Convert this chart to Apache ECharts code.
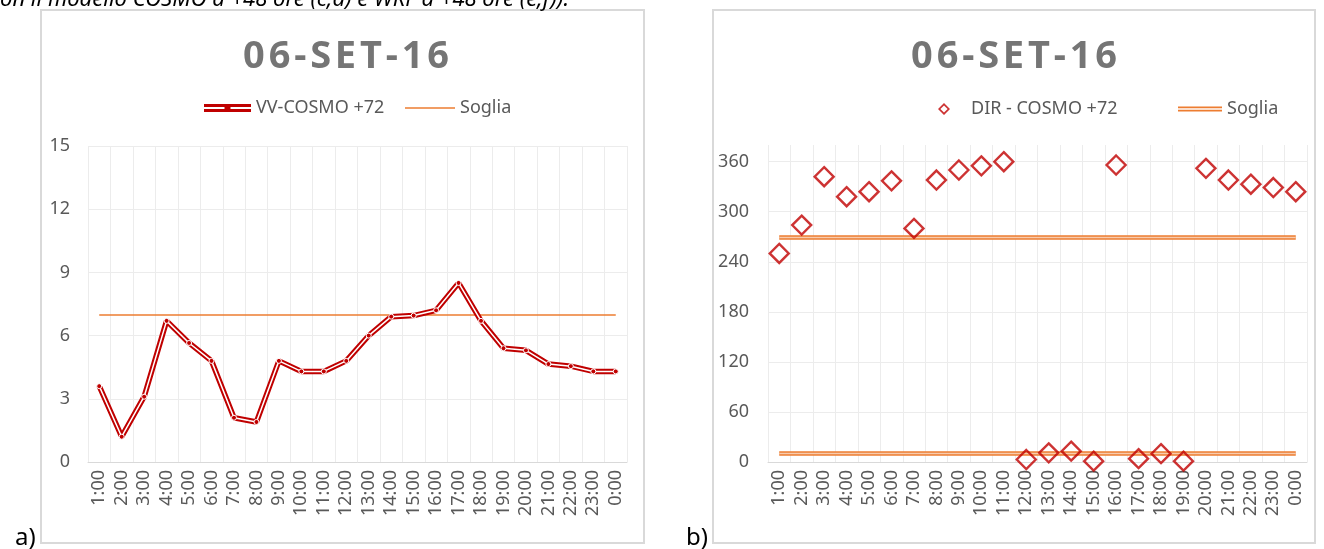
<!DOCTYPE html>
<html>
<head>
<meta charset="utf-8">
<script src="https://cdn.jsdelivr.net/npm/echarts@6/dist/echarts.min.js"></script>
<style>
  html, body { margin: 0; padding: 0; background: #fff; }
  #chart { width: 1324px; height: 549px; }
</style>
</head>
<body>
<div id="chart"></div>
<script>
// dati
const hours = ['1:00', '2:00', '3:00', '4:00', '5:00', '6:00', '7:00', '8:00', '9:00', '10:00', '11:00', '12:00',
  '13:00', '14:00', '15:00', '16:00', '17:00', '18:00', '19:00', '20:00', '21:00', '22:00', '23:00', '0:00']
const vvCosmo = [3.6, 1.2, 3.1, 6.7, 5.65, 4.8, 2.1, 1.9, 4.8, 4.3, 4.3, 4.8,
  6.0, 6.9, 6.95, 7.2, 8.5, 6.7, 5.4, 5.3, 4.65, 4.55, 4.3, 4.3]
const dirCosmo = [250, 284, 342, 318, 324, 337, 280, 338, 350, 355, 360, 3,
  11, 13, 1, 356, 4, 10, 1, 352, 338, 333, 329, 324]
const sogliaVV = [7]
const sogliaDir = [270, 10]

const FONT = '"Noto Sans", sans-serif'
const RED = '#c00000'
const ORANGE = '#ed7d31'
const GRID_COLOR = '#ececec'
const LABEL_COLOR = '#595959'
const TITLE = '06-SET-16'.split('').join('\u200A')  // leggera spaziatura tra le lettere

// linea orizzontale dal primo all'ultimo orario
function sogliaLines(values) {
  return values.map(v => [{ coord: [hours[0], v] }, { coord: [hours[hours.length - 1], v] }])
}

function xAxisFor(idx) {
  return {
    gridIndex: idx,
    type: 'category',
    data: hours,
    boundaryGap: true,
    axisLine: { lineStyle: { color: '#d9d9d9', width: 1 } },
    axisTick: { show: false },
    axisLabel: { interval: 0, rotate: 90, fontSize: 18, color: LABEL_COLOR, fontFamily: FONT, margin: 8 },
    splitLine: { show: true, interval: 0, lineStyle: { color: GRID_COLOR } }
  }
}

const chart = echarts.init(document.getElementById('chart'))
chart.setOption({
  animation: false,
  backgroundColor: '#fff',
  grid: [
    { left: 88, top: 146, width: 539, height: 316 },
    { left: 768, top: 145, width: 539, height: 317 }
  ],
  xAxis: [xAxisFor(0), xAxisFor(1)],
  yAxis: [{
    gridIndex: 0,
    type: 'value',
    min: 0,
    max: 15,
    interval: 3,
    axisLine: { show: false },
    axisTick: { show: false },
    axisLabel: { fontSize: 18, color: LABEL_COLOR, fontFamily: FONT, margin: 18 },
    splitLine: { lineStyle: { color: GRID_COLOR } }
  }, {
    gridIndex: 1,
    type: 'value',
    min: 0,
    max: 380,
    interval: 60,
    axisLine: { show: false },
    axisTick: { show: false },
    axisLabel: { fontSize: 18, color: LABEL_COLOR, fontFamily: FONT, margin: 19, showMaxLabel: false },
    splitLine: {
      lineStyle: {
        color: [GRID_COLOR, GRID_COLOR, GRID_COLOR, GRID_COLOR, GRID_COLOR, GRID_COLOR, GRID_COLOR, 'rgba(0,0,0,0)']
      }
    }
  }],
  legend: [{
    left: 199, top: 94, itemWidth: 47, itemHeight: 8, selectedMode: false,
    textStyle: { fontSize: 18, color: LABEL_COLOR, fontFamily: FONT },
    data: [{
      name: 'VV-COSMO +72',
      icon: 'path://M0,0H47V3H0Z M0,5H47V8H0Z M20.5,1.5H26.5V6.5H20.5Z',
      itemStyle: { color: RED, borderWidth: 0 }
    }]
  }, {
    left: 400, top: 94, itemWidth: 50, itemHeight: 8, selectedMode: false,
    textStyle: { fontSize: 18, color: LABEL_COLOR, fontFamily: FONT },
    data: [{ name: 'Soglia', icon: 'path://M0,0H50V1.6H0Z', itemStyle: { color: ORANGE, borderWidth: 0 } }]
  }, {
    left: 933, top: 95, itemWidth: 44, itemHeight: 12, selectedMode: false,
    textStyle: { fontSize: 18, color: LABEL_COLOR, fontFamily: FONT },
    data: [{
      name: 'DIR - COSMO +72',
      icon: 'path://M6,0L12,6L6,12L0,6Z M6,2.4L2.4,6L6,9.6L9.6,6Z',
      itemStyle: { color: RED, borderWidth: 0 }
    }]
  }, {
    left: 1173, top: 95, itemWidth: 44, itemHeight: 5, selectedMode: false,
    textStyle: { fontSize: 18, color: LABEL_COLOR, fontFamily: FONT },
    data: [{ name: 'Soglia', icon: 'path://M0,0H44V1.7H0Z M0,3.3H44V5H0Z', itemStyle: { color: ORANGE, borderWidth: 0 } }]
  }],
  series: [{
    // a) linea rossa doppia
    name: 'VV-COSMO +72',
    type: 'line',
    xAxisIndex: 0,
    yAxisIndex: 0,
    data: vvCosmo,
    symbol: 'none',
    lineStyle: { color: RED, width: 5.5 },
    itemStyle: { color: RED },
    z: 10
  }, {
    name: 'vv-core',
    type: 'line',
    xAxisIndex: 0,
    yAxisIndex: 0,
    data: vvCosmo,
    symbol: 'circle',
    symbolSize: 5,
    lineStyle: { color: '#fff', width: 1.5 },
    itemStyle: { color: RED, borderColor: '#fff', borderWidth: 1 },
    z: 11
  }, {
    name: 'Soglia',
    type: 'line',
    xAxisIndex: 0,
    yAxisIndex: 0,
    data: [],
    itemStyle: { color: ORANGE },
    markLine: {
      silent: true,
      symbol: 'none',
      label: { show: false },
      lineStyle: { color: ORANGE, width: 1.5, type: 'solid' },
      data: sogliaLines(sogliaVV)
    }
  }, {
    // b) direzione
    name: 'DIR - COSMO +72',
    type: 'scatter',
    xAxisIndex: 1,
    yAxisIndex: 1,
    data: dirCosmo,
    symbol: 'diamond',
    symbolSize: 19,
    itemStyle: { color: 'rgba(255,255,255,0)', borderColor: RED, borderWidth: 2.4 },
    z: 10
  }, {
    name: 'Soglia',
    type: 'line',
    xAxisIndex: 1,
    yAxisIndex: 1,
    data: [],
    itemStyle: { color: ORANGE },
    markLine: {
      silent: true,
      symbol: 'none',
      z: 5,
      label: { show: false },
      lineStyle: { color: ORANGE, width: 4.5, type: 'solid' },
      data: sogliaLines(sogliaDir)
    }
  }, {
    name: 'soglia-core',
    type: 'line',
    xAxisIndex: 1,
    yAxisIndex: 1,
    data: [],
    markLine: {
      silent: true,
      symbol: 'none',
      z: 6,
      label: { show: false },
      lineStyle: { color: '#f8cbad', width: 1.4, type: 'solid' },
      data: sogliaLines(sogliaDir)
    }
  }],
  graphic: [
    { type: 'rect', shape: { x: 41, y: 10, width: 603, height: 533 }, style: { fill: 'none', stroke: '#d9d9d9', lineWidth: 2 }, z: -1 },
    { type: 'rect', shape: { x: 713, y: 10, width: 602, height: 533 }, style: { fill: 'none', stroke: '#d9d9d9', lineWidth: 2 }, z: -1 },
    {
      type: 'text', x: 346, y: 57,
      style: { text: TITLE, font: 'bold 38px ' + FONT, fill: '#757575', textAlign: 'center', align: 'center', textVerticalAlign: 'middle', verticalAlign: 'middle' }
    },
    {
      type: 'text', x: 1014, y: 57,
      style: { text: TITLE, font: 'bold 38px ' + FONT, fill: '#757575', textAlign: 'center', align: 'center', textVerticalAlign: 'middle', verticalAlign: 'middle' }
    },
    {
      type: 'text', x: 0, y: 11,
      style: { text: 'on il modello COSMO a +48 ore (c,d) e WRF a +48 ore (e,f)).', font: 'italic 22px ' + FONT, fill: '#000', textVerticalAlign: 'bottom', verticalAlign: 'bottom' }
    },
    {
      type: 'text', x: 15, y: 550,
      style: { text: 'a)', font: '24px ' + FONT, fill: '#000', textVerticalAlign: 'bottom', verticalAlign: 'bottom' }
    },
    {
      type: 'text', x: 686, y: 550,
      style: { text: 'b)', font: '24px ' + FONT, fill: '#000', textVerticalAlign: 'bottom', verticalAlign: 'bottom' }
    }
  ]
})
</script>
</body>
</html>
